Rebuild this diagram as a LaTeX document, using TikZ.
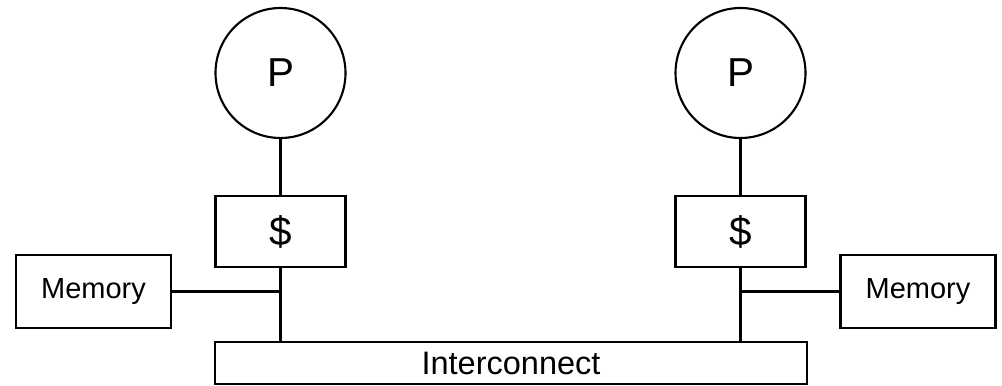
\documentclass[tikz,border=0pt]{standalone}
\usepackage{fontspec}
\setmainfont{Liberation Sans}
\tikzset{
  proc/.style={draw,circle,minimum size=2.6cm,inner sep=0pt,font=\fontsize{23}{25}\selectfont},
  cache/.style={draw,rectangle,minimum width=2.6cm,minimum height=1.42cm,inner sep=0pt,font=\fontsize{23}{25}\selectfont},
  mem/.style={draw,rectangle,minimum width=3.1cm,minimum height=1.46cm,inner sep=0pt,font=\fontsize{16.5}{18}\selectfont},
}
\begin{document}
\begin{tikzpicture}[line width=1.2pt]
\useasboundingbox (0,0) rectangle (20.04,7.7);
% two processors with their caches
\node[proc] (pl) at (5.61,6.24) {P};
\node[proc] (pr) at (14.81,6.24) {P};
\node[cache] (cl) at (5.61,3.07) {\$};
\node[cache] (cr) at (14.81,3.07) {\$};
% memories hanging off the cache lines
\node[mem] (ml) at (1.87,1.87) {Memory};
\node[mem] (mr) at (18.36,1.87) {Memory};
% shared bus
\node[draw,rectangle,minimum width=11.84cm,minimum height=0.84cm,inner sep=0pt,
  font=\fontsize{18.5}{20}\selectfont] (bus) at (10.22,0.44) {Interconnect};
\draw (pl) -- (cl);
\draw (pr) -- (cr);
\draw (cl.south) -- (cl.south |- bus.north);
\draw (cr.south) -- (cr.south |- bus.north);
\draw (ml.east) -- (ml.east -| cl.south);
\draw (mr.west) -- (mr.west -| cr.south);
\end{tikzpicture}
\end{document}
